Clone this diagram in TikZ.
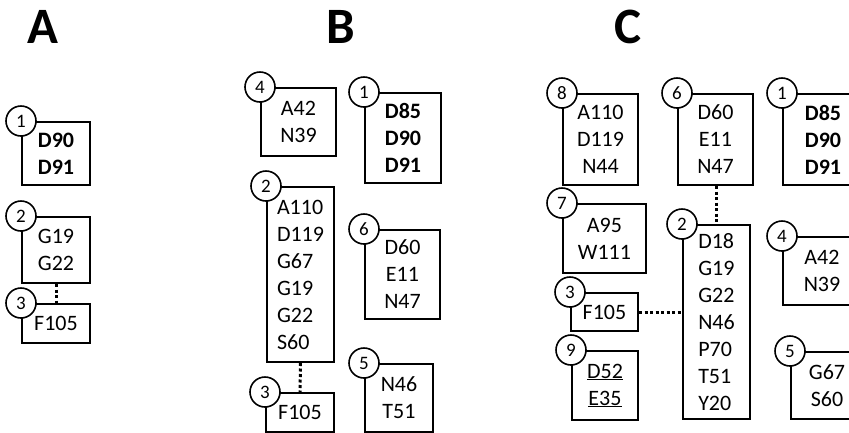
\documentclass[tikz,border=0pt]{standalone}
\usepackage{fontspec}
\setmainfont{Carlito}
\begin{document}
\begin{tikzpicture}[x=1pt,y=-1pt,
  box/.style={draw, line width=2pt, inner sep=0pt, anchor=north west, align=center,
    font=\fontsize{22}{27}\selectfont},
  num/.style={draw, circle, line width=1.6pt, fill=white, minimum size=30pt, inner sep=0pt,
    font=\fontsize{19}{22}\selectfont},
  dotline/.style={line width=3pt, dash pattern=on 3pt off 2.5pt},
  title/.style={anchor=base, font=\fontsize{51}{55}\selectfont\bfseries, inner sep=0pt}]
\useasboundingbox (0,0) rectangle (849,432);
\clip (0,0) rectangle (849,432);
% generic box macro: name, l, t, r, b, text
\newcommand\mybox[7][]{%
  \node[box,#1, minimum width={(#4-#2)*1pt}, minimum height={(#5-#3)*1pt}] (#6) at (#2,#3) {#7};}
% titles
\node[title] (tA) at (42.5,43) {A};
\node[title] (tB) at (341,43) {B};
\node[title] (tC) at (628,43) {C};
% panel A
\mybox{21}{121}{89}{184}{a1}{\textbf{D90}\\\textbf{D91}}
\mybox{21}{216}{89}{282}{a2}{G19\\G22}
\mybox{21}{303}{89}{342}{a3}{F105}
% panel B
\mybox{260}{87}{335}{155}{b4}{A42\\N39}
\mybox{364}{92}{440}{182}{b1}{\textbf{D85}\\\textbf{D90}\\\textbf{D91}}
\mybox[align=left]{266}{186}{333}{361}{b2}{A110\\D119\\G67\\G19\\G22\\S60}
\mybox{364}{229}{439}{318}{b6}{D60\\E11\\N47}
\mybox{265}{392}{333}{431}{b3}{F105}
\mybox{364}{363}{432}{431}{b5}{N46\\T51}
% panel C
\mybox{562}{93}{637}{184}{c8}{A110\\D119\\N44}
\mybox{677}{93}{752}{184}{c6}{D60\\E11\\N47}
\mybox{782}{93}{862}{184}{c1}{\textbf{D85}\\\textbf{D90}\\\textbf{D91}}
\mybox{562}{203}{645}{272}{c7}{A95\\W111}
\mybox[align=left]{682}{224}{749}{418}{c2}{D18\\G19\\G22\\N46\\P70\\T51\\Y20}
\mybox{570}{292}{637}{330}{c3}{F105}
\mybox{571}{350}{637}{419}{c9}{\underline{D52}\\\underline{E35}}
\mybox{782}{236}{860}{304}{c4}{A42\\N39}
\mybox{790}{351}{862}{418}{c5}{G67\\S60}
% connectors
\draw[dotline] (a2.south) -- (a3.north);
\draw[dotline] (b2.south) -- (b3.north);
\draw[dotline] (c6.south -| c2.north) -- (c2.north);
\draw[dotline] (c3.east) -- (c3.east -| c2.west);
% number circles
\node[num] (na1) at (a1.north west) {1};
\node[num] (na2) at (a2.north west) {2};
\node[num] (na3) at (a3.north west) {3};
\node[num] (nb4) at (b4.north west) {4};
\node[num] (nb1) at (b1.north west) {1};
\node[num] (nb2) at (b2.north west) {2};
\node[num] (nb6) at (b6.north west) {6};
\node[num] (nb3) at (b3.north west) {3};
\node[num] (nb5) at (b5.north west) {5};
\node[num] (nc8) at (c8.north west) {8};
\node[num] (nc6) at (c6.north west) {6};
\node[num] (nc1) at (c1.north west) {1};
\node[num] (nc7) at (c7.north west) {7};
\node[num] (nc2) at (c2.north west) {2};
\node[num] (nc3) at (c3.north west) {3};
\node[num] (nc9) at (c9.north west) {9};
\node[num] (nc4) at (c4.north west) {4};
\node[num] (nc5) at (c5.north west) {5};
\end{tikzpicture}
\end{document}
